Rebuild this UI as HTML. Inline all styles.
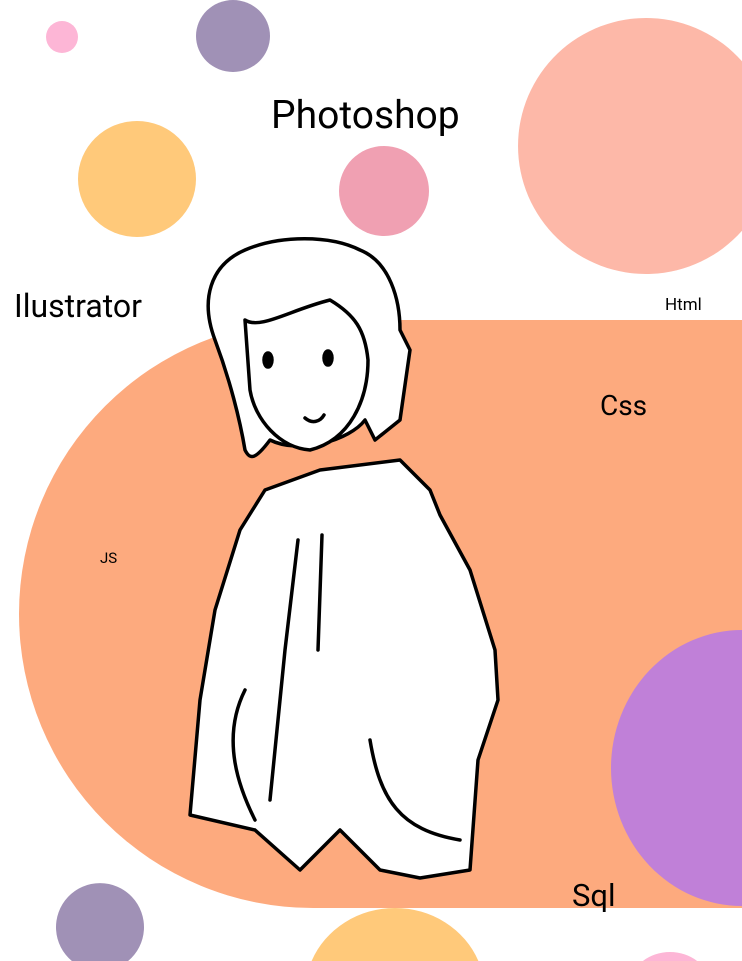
<!DOCTYPE html>
<html><head><meta charset="utf-8"><style>
html,body{margin:0;padding:0;background:#fff;width:742px;height:961px;overflow:hidden;}
#stage{position:relative;width:742px;height:961px;overflow:hidden;background:#fff;font-family:"Roboto","Liberation Sans",sans-serif;}
.t{position:absolute;color:#000;white-space:nowrap;line-height:1.15;}
svg{position:absolute;left:0;top:0;display:block;}
</style></head><body>
<div id="stage">
<svg width="742" height="961" viewBox="0 0 742 961">
<circle cx="62" cy="37" r="16" fill="#fdb6d6"/>
<ellipse cx="233" cy="36" rx="37" ry="36" fill="#a091b6"/>
<path d="M742,61.3 A128,128 0 1 0 742,230.7 Z" fill="#fdb8a8"/>
<ellipse cx="137" cy="179" rx="59" ry="58" fill="#ffc97a"/>
<circle cx="384" cy="191" r="45" fill="#f0a0b2"/>
<path d="M313,320 L742,320 L742,908 L313,908 A294,294 0 0 1 313,320 Z" fill="#fdaa7e"/>
<path d="M742,630 A131,138 0 0 0 742,906 Z" fill="#c080d8"/>
<path d="M71.9,961 A44,44 0 1 1 128.1,961 Z" fill="#a091b6"/>
<path d="M311.6,961 A90,85 0 0 1 478.4,961 Z" fill="#ffc97a"/>
<path d="M642.9,961 A38,30 0 0 1 697.1,961 Z" fill="#fdb6d6"/>
</svg>

<svg width="742" height="961" fill="#fff" stroke="#000" stroke-width="3.5" stroke-linecap="round" stroke-linejoin="round">
<path d="M265,490 L320,470 L400,460 L430,490 L440,515 L470,570 L495,650 L498,700 L478,760 L470,870 L420,878 L380,870 L340,830 L300,870 L255,830 L190,815 L200,700 L215,610 L240,530 Z"/>
<path d="M215,340 C200,300 210,265 245,250 C280,235 330,235 360,250 C390,262 400,300 400,330 L410,350 L400,420 L375,440 L365,420 C350,440 300,455 270,440 C255,460 250,460 245,450 C240,420 230,380 215,340 Z"/>
<path d="M245,320 C260,330 290,310 330,300 C355,315 365,330 368,360 C368,400 350,440 310,450 C280,448 255,420 250,390 Z"/>
<ellipse cx="268" cy="360" rx="4" ry="7" fill="#000"/>
<ellipse cx="328" cy="358" rx="4" ry="7" fill="#000"/>
<path fill="none" d="M305,418 C312,424 320,422 324,415"/>
<path fill="none" d="M298,540 L285,650 L270,800 M322,535 L318,650"/>
<path fill="none" d="M370,740 C380,800 400,830 460,840 M245,690 C220,740 240,790 255,820"/>
</svg>

<div class="t" style="left:271px;top:93px;font-size:39px">Photoshop</div>
<div class="t" style="left:14px;top:288px;font-size:32px">Ilustrator</div>
<div class="t" style="left:665px;top:296px;font-size:17px">Html</div>
<div class="t" style="left:600px;top:390px;font-size:28px">Css</div>
<div class="t" style="left:100px;top:550px;font-size:15px">JS</div>
<div class="t" style="left:572px;top:878px;font-size:31px">Sql</div>
</div>
</body></html>
